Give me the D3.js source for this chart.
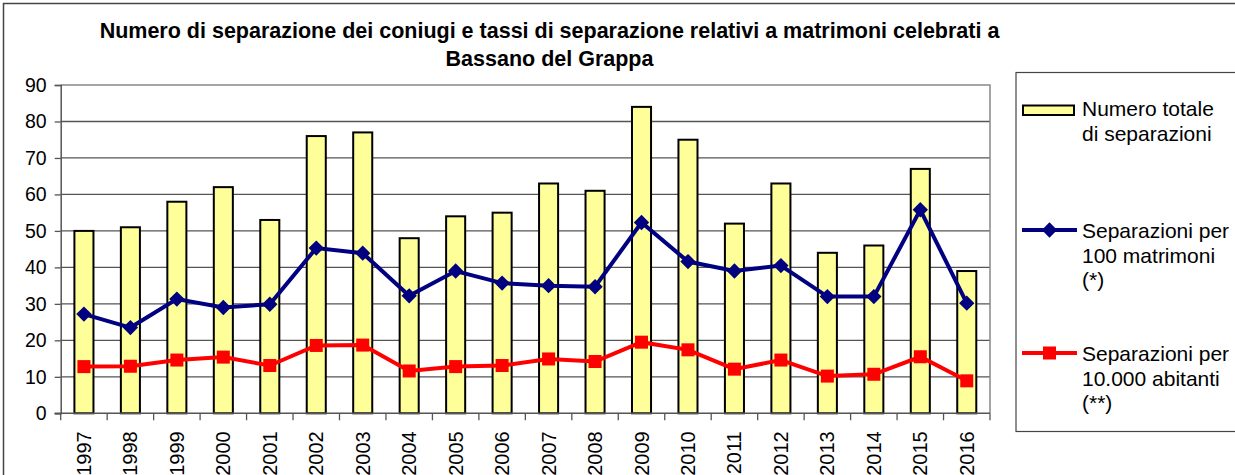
<!DOCTYPE html>
<html>
<head>
<meta charset="utf-8">
<script src="https://cdn.jsdelivr.net/npm/d3@7"></script>
<style>
  html, body { margin: 0; padding: 0; background: #fff; }
  svg { display: block; font-family: "Liberation Sans", Arial, sans-serif; }
</style>
</head>
<body>
<svg id="chart" width="1235" height="475"></svg>
<script>
// Separazioni a Bassano del Grappa, 1997-2016
const years = ["1997","1998","1999","2000","2001","2002","2003","2004","2005","2006",
               "2007","2008","2009","2010","2011","2012","2013","2014","2015","2016"];
const totaleSeparazioni = [50, 51, 58, 62, 53, 76, 77, 48, 54, 55, 63, 61, 84, 75, 52, 63, 44, 46, 67, 39];
const perCentoMatrimoni = [27.2, 23.5, 31.3, 29.0, 29.9, 45.3, 43.9, 32.2, 39.0, 35.7,
                           35.0, 34.7, 52.3, 41.6, 39.0, 40.5, 32.0, 32.0, 55.8, 30.2];
const perDiecimilaAbitanti = [12.8, 12.9, 14.6, 15.4, 13.1, 18.6, 18.7, 11.6, 12.8, 13.1,
                              14.9, 14.2, 19.5, 17.4, 12.1, 14.6, 10.2, 10.7, 15.5, 8.9];
const yTicks = [0, 10, 20, 30, 40, 50, 60, 70, 80, 90];
const titleLines = ["Numero di separazione dei coniugi e tassi di separazione relativi a matrimoni celebrati a",
                    "Bassano del Grappa"];
const legendLabels = [
  ["Numero totale", "di separazioni"],
  ["Separazioni per", "100 matrimoni", "(*)"],
  ["Separazioni per", "10.000 abitanti", "(**)"]
];

const svg = d3.select("#chart");
const plot = { left: 60.7, right: 990, top: 85, bottom: 413.3 };

// outer frame
svg.append("rect")
  .attr("x", 3.5).attr("y", 3.5).attr("width", 1300).attr("height", 600)
  .attr("fill", "none").attr("stroke", "#444").attr("stroke-width", 1.5);

// title
svg.append("g").selectAll("text").data(titleLines).join("text")
  .attr("x", 549.5).attr("y", (d, i) => 38 + i * 28)
  .attr("text-anchor", "middle")
  .attr("font-weight", "bold").attr("font-size", 21.5).attr("fill", "#000")
  .text(d => d);

const x = d3.scaleBand().domain(years).range([plot.left, plot.right]).padding(0);
const y = d3.scaleLinear().domain([0, 90]).range([plot.bottom, plot.top]);
const barW = x.bandwidth() * 0.41;
const cx = d => x(d) + x.bandwidth() / 2;

// gridlines
svg.append("g").selectAll("line").data(yTicks.filter(t => t > 0 && t < 90)).join("line")
  .attr("x1", plot.left).attr("x2", plot.right)
  .attr("y1", d => y(d)).attr("y2", d => y(d))
  .attr("stroke", "#555").attr("stroke-width", 1.3);

// plot area border (top / right)
svg.append("path")
  .attr("d", `M${plot.left},${plot.top}H${plot.right}V${plot.bottom}`)
  .attr("fill", "none").attr("stroke", "#888").attr("stroke-width", 1.5);

// bars
svg.append("g").selectAll("rect").data(years).join("rect")
  .attr("x", d => cx(d) - barW / 2)
  .attr("width", barW)
  .attr("y", (d, i) => y(totaleSeparazioni[i]))
  .attr("height", (d, i) => y(0) - y(totaleSeparazioni[i]))
  .attr("fill", "#FFFF99").attr("stroke", "#000").attr("stroke-width", 2);

// y axis
const yAxis = svg.append("g").attr("transform", `translate(${plot.left},0)`)
  .call(d3.axisLeft(y).tickValues(yTicks).tickSize(6).tickPadding(8).tickFormat(d3.format("d")));
yAxis.select(".domain").attr("stroke", "#555").attr("stroke-width", 1.5);
yAxis.selectAll(".tick line").attr("stroke", "#555").attr("stroke-width", 1.3);
yAxis.selectAll(".tick text").attr("font-size", 19.5).attr("fill", "#000")
  .attr("font-family", "Liberation Sans, Arial, sans-serif");

// x axis
const xAxis = svg.append("g").attr("transform", `translate(0,${plot.bottom})`)
  .call(d3.axisBottom(x).tickSize(0).tickFormat(d => d));
xAxis.select(".domain").remove();
xAxis.selectAll(".tick text")
  .attr("font-size", 20).attr("fill", "#000")
  .attr("font-family", "Liberation Sans, Arial, sans-serif")
  .attr("text-anchor", "end")
  .attr("transform", "translate(0,18) rotate(-90)")
  .attr("x", 0).attr("y", 0).attr("dy", "0.35em");
svg.append("line")
  .attr("x1", plot.left - 6).attr("x2", plot.right)
  .attr("y1", plot.bottom).attr("y2", plot.bottom)
  .attr("stroke", "#555").attr("stroke-width", 1.5);
// category separator ticks
const sepTicks = years.map(d => x(d)).concat([plot.right]);
svg.append("g").selectAll("line").data(sepTicks).join("line")
  .attr("x1", d => d).attr("x2", d => d)
  .attr("y1", plot.bottom).attr("y2", plot.bottom + 7)
  .attr("stroke", "#555").attr("stroke-width", 1.3);

// lines
const lineGen = d3.line().x(d => cx(d[0])).y(d => y(d[1]));
const blueData = years.map((d, i) => [d, perCentoMatrimoni[i]]);
const redData = years.map((d, i) => [d, perDiecimilaAbitanti[i]]);

svg.append("path").datum(redData).attr("d", lineGen)
  .attr("fill", "none").attr("stroke", "#FF0000").attr("stroke-width", 4);
svg.append("g").selectAll("rect").data(redData).join("rect")
  .attr("x", d => cx(d[0]) - 6.5).attr("y", d => y(d[1]) - 6.5)
  .attr("width", 13).attr("height", 13).attr("fill", "#FF0000");

svg.append("path").datum(blueData).attr("d", lineGen)
  .attr("fill", "none").attr("stroke", "#000080").attr("stroke-width", 4);
const diamond = d3.symbol().type(d3.symbolDiamond2).size(150);
svg.append("g").selectAll("path").data(blueData).join("path")
  .attr("d", diamond)
  .attr("transform", d => `translate(${cx(d[0])},${y(d[1])})`)
  .attr("fill", "#000080");

// legend
const lg = svg.append("g");
lg.append("rect").attr("x", 1016).attr("y", 72.5).attr("width", 300).attr("height", 359)
  .attr("fill", "#fff").attr("stroke", "#444").attr("stroke-width", 1.2);

lg.append("rect").attr("x", 1023).attr("y", 105.5).attr("width", 51).attr("height", 9.5)
  .attr("fill", "#FFFF99").attr("stroke", "#000").attr("stroke-width", 2);

lg.append("line").attr("x1", 1022).attr("x2", 1077).attr("y1", 230).attr("y2", 230)
  .attr("stroke", "#000080").attr("stroke-width", 4);
lg.append("path").attr("d", diamond).attr("transform", "translate(1049.5,230)").attr("fill", "#000080");

lg.append("line").attr("x1", 1022).attr("x2", 1077).attr("y1", 353).attr("y2", 353)
  .attr("stroke", "#FF0000").attr("stroke-width", 4);
lg.append("rect").attr("x", 1043).attr("y", 346.5).attr("width", 13).attr("height", 13).attr("fill", "#FF0000");

const legendTop = [109, 231, 354];
legendLabels.forEach((lines, k) => {
  lg.append("g").selectAll("text").data(lines).join("text")
    .attr("x", 1082).attr("y", (d, i) => legendTop[k] + i * 24.5)
    .attr("dy", "0.35em")
    .attr("font-size", 21).attr("fill", "#000")
    .text(d => d);
});
</script>
</body>
</html>
